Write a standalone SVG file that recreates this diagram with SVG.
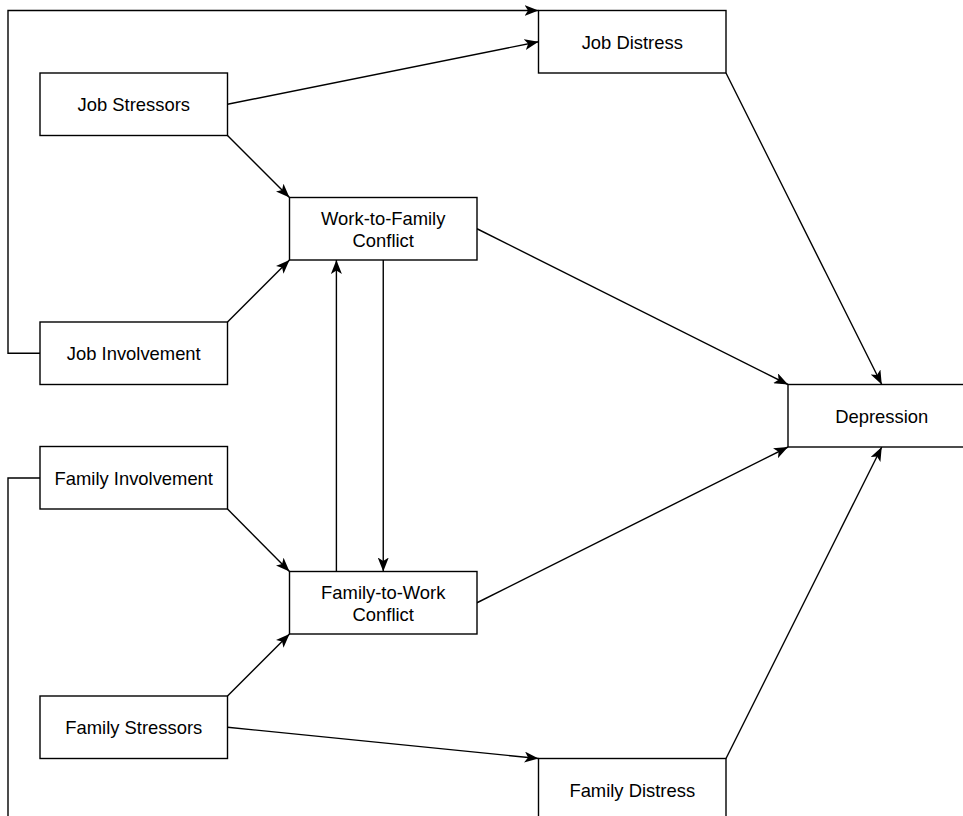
<svg xmlns="http://www.w3.org/2000/svg" width="963" height="816" viewBox="0 0 963 816">
  <style>
    .box { fill: #ffffff; stroke: #000000; stroke-width: 1.4; }
    .lbl { font-family: "Liberation Sans", Arial, sans-serif; font-size: 18.4px; fill: #000000; text-anchor: middle; dominant-baseline: central; }
    .edge { fill: none; stroke: #000000; stroke-width: 1.4; marker-end: url(#arrow); }
  </style>
  <defs>
    <marker id="arrow" viewBox="0 0 14 11" refX="14" refY="5.5" markerWidth="14" markerHeight="11" markerUnits="userSpaceOnUse" orient="auto">
      <path d="M0,0 L14,5.5 L0,11 L3.5,5.5 Z" fill="#000000"/>
    </marker>
  </defs>
  <rect width="963" height="816" fill="#ffffff"/>

  <!-- connectors -->
  <g id="connectors">
    <path class="edge" d="M40,353.25 H8 V10.5 H538.5"/>
    <path class="edge" d="M227.5,104.25 L538.5,41.75"/>
    <path class="edge" d="M227.5,135.5 L289.5,197.5"/>
    <path class="edge" d="M227.5,322 L289.5,260"/>
    <path class="edge" d="M336.4,571.5 V260"/>
    <path class="edge" d="M383.25,260 V571.5"/>
    <path class="edge" d="M477,228.75 L788,384.5"/>
    <path class="edge" d="M726,73 L881.75,384.5"/>
    <path class="edge" d="M477,602.75 L788,447"/>
    <path class="edge" d="M726,758.5 L881.75,447"/>
    <path class="edge" d="M227.5,509 L289.5,571.5"/>
    <path class="edge" d="M227.5,696 L289.5,634"/>
    <path class="edge" d="M227.5,727.25 L538.5,758.5"/>
    <path class="edge" d="M40,478 H8 V821 H538.5"/>
  </g>

  <g id="job-distress">
    <rect class="box" x="538.5" y="10.5" width="187.5" height="62.5"/>
    <text class="lbl" x="632.25" y="42">Job Distress</text>
  </g>
  <g id="job-stressors">
    <rect class="box" x="40" y="73" width="187.5" height="62.5"/>
    <text class="lbl" x="133.75" y="104.5">Job Stressors</text>
  </g>
  <g id="work-to-family-conflict">
    <rect class="box" x="289.5" y="197.5" width="187.5" height="62.5"/>
    <text class="lbl" x="383.25" y="218.5">Work-to-Family</text>
    <text class="lbl" x="383.25" y="240">Conflict</text>
  </g>
  <g id="job-involvement">
    <rect class="box" x="40" y="322" width="187.5" height="62.5"/>
    <text class="lbl" x="133.75" y="353.5">Job Involvement</text>
  </g>
  <g id="depression">
    <rect class="box" x="788" y="384.5" width="187.5" height="62.5"/>
    <text class="lbl" x="881.75" y="416">Depression</text>
  </g>
  <g id="family-involvement">
    <rect class="box" x="40" y="446.5" width="187.5" height="62.5"/>
    <text class="lbl" x="133.75" y="478">Family Involvement</text>
  </g>
  <g id="family-to-work-conflict">
    <rect class="box" x="289.5" y="571.5" width="187.5" height="62.5"/>
    <text class="lbl" x="383.25" y="592.5">Family-to-Work</text>
    <text class="lbl" x="383.25" y="614">Conflict</text>
  </g>
  <g id="family-stressors">
    <rect class="box" x="40" y="696" width="187.5" height="62.5"/>
    <text class="lbl" x="133.75" y="727.5">Family Stressors</text>
  </g>
  <g id="family-distress">
    <rect class="box" x="538.5" y="758.5" width="187.5" height="62.5"/>
    <text class="lbl" x="632.25" y="790">Family Distress</text>
  </g>
</svg>
